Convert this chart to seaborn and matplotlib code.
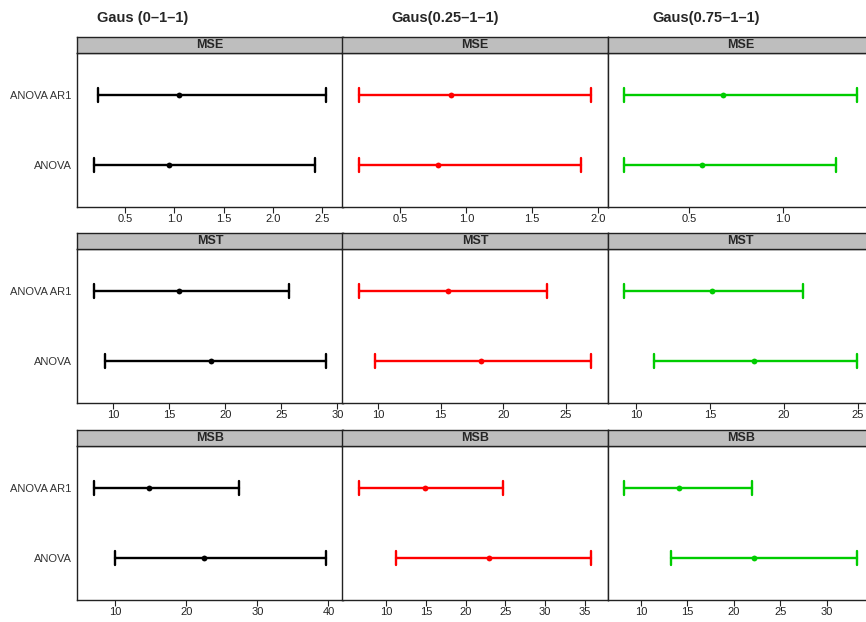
import numpy as np
import pandas as pd
import matplotlib
matplotlib.use("Agg")
import matplotlib.pyplot as plt
import seaborn as sns

# --- datos ---
methods = ["ANOVA AR1", "ANOVA"]
scenarios = ["Gaus (0\u20131\u20131)", "Gaus(0.25\u20131\u20131)", "Gaus(0.75\u20131\u20131)"]
stats = ["MSE", "MST", "MSB"]
colors = ["black", "#ff0000", "#00cc00"]

# [escenario][metodo]
mse_lower = [[0.22, 0.18], [0.183, 0.183], [0.155, 0.155]]
mse_point = [[1.045, 0.947], [0.886, 0.784], [0.68, 0.569]]
mse_upper = [[2.545, 2.43], [1.95, 1.87], [1.397, 1.286]]

mst_lower = [[8.25, 9.28], [8.46, 9.76], [9.21, 11.2]]
mst_point = [[15.87, 18.77], [15.56, 18.24], [15.16, 17.98]]
mst_upper = [[25.72, 29.04], [23.5, 27.05], [21.31, 24.97]]

msb_lower = [[7.0, 10.0], [6.51, 11.26], [8.2, 13.27]]
msb_point = [[14.74, 22.53], [14.87, 22.9], [14.14, 22.12]]
msb_upper = [[27.4, 39.72], [24.71, 35.84], [21.97, 33.27]]

mse_ticks = [[0.5, 1.0, 1.5, 2.0, 2.5], [0.5, 1.0, 1.5, 2.0], [0.5, 1.0]]
mst_ticks = [[10, 15, 20, 25, 30], [10, 15, 20, 25], [10, 15, 20, 25]]
msb_ticks = [[10, 20, 30, 40], [10, 15, 20, 25, 30, 35], [10, 15, 20, 25, 30]]

tables = {
    "MSE": (mse_lower, mse_point, mse_upper, mse_ticks),
    "MST": (mst_lower, mst_point, mst_upper, mst_ticks),
    "MSB": (msb_lower, msb_point, msb_upper, msb_ticks),
}

# tabla larga: tres filas por intervalo (inferior, punto, superior)
rows = []
for st in stats:
    lo, pt, hi, _ = tables[st]
    for j, sc in enumerate(scenarios):
        for k, m in enumerate(methods):
            for v in (lo[j][k], pt[j][k], hi[j][k]):
                rows.append({"stat": st, "scenario": sc, "method": m, "value": v})
df = pd.DataFrame(rows)


def span(v):
    return (v.min(), v.max())


sns.set_style("white")
plt.rcParams["font.family"] = ["Liberation Sans", "DejaVu Sans"]

W, H = 866, 622
fig = plt.figure(figsize=(W / 100, H / 100), dpi=100)


def px_axes(left, top, width, height):
    return fig.add_axes([left / W, 1 - (top + height) / H, width / W, height / H])


col_left = [77.3, 342.3, 608.0]
col_w = 265.5
body_top = [53, 249, 446]
body_h = 154
strip_h = 16

for i, st in enumerate(stats):
    lo, pt, hi, ticks = tables[st]
    for j, sc in enumerate(scenarios):
        ax = px_axes(col_left[j], body_top[i], col_w, body_h)
        sub = df[(df["stat"] == st) & (df["scenario"] == sc)]
        sns.pointplot(data=sub, x="value", y="method", order=methods,
                      orient="y", estimator="median", errorbar=span,
                      color=colors[j], capsize=0.2, linestyle="none",
                      markersize=4.2, markeredgewidth=0,
                      err_kws={"linewidth": 1.7}, ax=ax)
        vals = sub["value"]
        r = vals.max() - vals.min()
        ax.set_xlim(vals.min() - 0.07 * r, vals.max() + 0.07 * r)
        ax.set_ylim(1.59, -0.59)
        ax.set_xticks(ticks[j])
        ax.set_xlabel("")
        ax.set_ylabel("")
        ax.tick_params(axis="x", direction="out", length=4, width=0.8,
                       color="#222222", labelsize=8, labelcolor="#222222",
                       pad=1, bottom=True)
        ax.tick_params(axis="y", length=0, labelsize=8,
                       labelcolor="#333333", pad=4)
        if j > 0:
            ax.set_yticklabels([])
        for sp in ax.spines.values():
            sp.set_color("#222222")
            sp.set_linewidth(1.0)

        sx = px_axes(col_left[j], body_top[i] - strip_h, col_w, strip_h)
        sx.set_facecolor("#bebebe")
        sx.set_xticks([])
        sx.set_yticks([])
        for sp in sx.spines.values():
            sp.set_color("#222222")
            sp.set_linewidth(1.0)
        sx.text(0.5, 0.5, st, transform=sx.transAxes, ha="center",
                va="center", fontsize=9, fontweight="bold")

title_x = [143, 445, 706]
for j, sc in enumerate(scenarios):
    fig.text(title_x[j] / W, 1 - 18 / H, sc, ha="center", va="center",
             fontsize=10.5, fontweight="bold")

fig.savefig("out.png", dpi=100)
